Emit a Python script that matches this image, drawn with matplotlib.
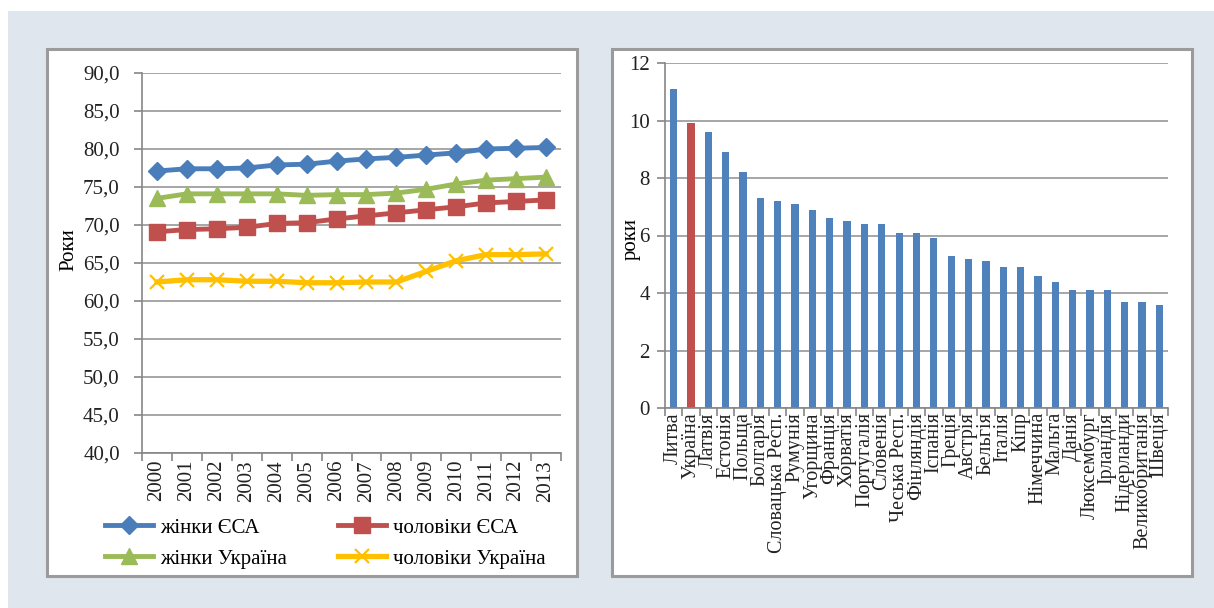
import matplotlib.pyplot as plt
from matplotlib.patches import Rectangle
from matplotlib.ticker import FuncFormatter, FixedLocator

plt.rcParams['font.family'] = 'serif'
plt.rcParams['font.serif'] = ['Liberation Serif', 'DejaVu Serif']

# left chart: life expectancy
years = [str(y) for y in range(2000, 2014)]
women_eu = [77.1, 77.4, 77.4, 77.5, 77.9, 78.0, 78.4, 78.7, 78.9, 79.2, 79.5, 80.0, 80.1, 80.2]
men_eu = [69.1, 69.4, 69.5, 69.7, 70.2, 70.3, 70.8, 71.2, 71.6, 72.0, 72.4, 72.9, 73.1, 73.3]
women_ua = [73.5, 74.1, 74.1, 74.1, 74.1, 73.9, 74.0, 74.0, 74.2, 74.7, 75.4, 75.9, 76.1, 76.3]
men_ua = [62.5, 62.8, 62.8, 62.6, 62.6, 62.4, 62.4, 62.5, 62.5, 63.9, 65.3, 66.1, 66.1, 66.2]

# right chart: gap in years by country
countries = ['Литва', 'Україна', 'Латвія', 'Естонія', 'Польща', 'Болгарія', 'Словацька Респ.',
             'Румунія', 'Угорщина', 'Франція', 'Хорватія', 'Португалія', 'Словенія',
             'Чеська Респ.', 'Фінляндія', 'Іспанія', 'Греція', 'Австрія', 'Бельгія', 'Італія',
             'Кіпр', 'Німеччина', 'Мальта', 'Данія', 'Люксембург', 'Ірландія', 'Нідерланди',
             'Великобританія', 'Швеція']
gap = [11.1, 9.9, 9.6, 8.9, 8.2, 7.3, 7.2, 7.1, 6.9, 6.6, 6.5, 6.4, 6.4, 6.1, 6.1, 5.9,
       5.3, 5.2, 5.1, 4.9, 4.9, 4.6, 4.4, 4.1, 4.1, 4.1, 3.7, 3.7, 3.6]

W, H = 1214, 608
fig = plt.figure(figsize=(W / 100, H / 100), dpi=100)
fig.patch.set_facecolor('white')


def px_rect(x0, y0, x1, y1):
    return [x0 / W, 1 - y1 / H, (x1 - x0) / W, (y1 - y0) / H]


bg = Rectangle((8 / W, 0), 1 - 8 / W, 1 - 11 / H, transform=fig.transFigure,
               facecolor='#dfe6ee', edgecolor='none', zorder=-10)
fig.patches.append(bg)
for x0, x1 in [(47, 577), (612, 1192)]:
    box = Rectangle((x0 / W, 1 - 576 / H), (x1 - x0) / W, (576 - 49) / H,
                    transform=fig.transFigure, facecolor='white',
                    edgecolor='#9b9b9b', linewidth=2.2, zorder=-5)
    fig.patches.append(box)

grid_c = '#a6a6a6'
axis_c = '#868686'
fs = 15


def style(ax, xfs, ypad):
    for s in ['top', 'right']:
        ax.spines[s].set_visible(False)
    for s in ['left', 'bottom']:
        ax.spines[s].set_color(axis_c)
        ax.spines[s].set_linewidth(1.2)
    ax.yaxis.grid(True, color=grid_c, linewidth=1.4)
    ax.set_axisbelow(True)
    ax.tick_params(axis='y', colors=axis_c, labelcolor='#222222', labelsize=fs,
                   length=6, width=1.2, pad=ypad)
    ax.tick_params(axis='x', which='major', length=0, labelcolor='#222222',
                   labelsize=xfs, pad=5)
    ax.tick_params(axis='x', which='minor', length=6, width=1.2, colors=axis_c)


# ---- left chart
ax1 = fig.add_axes(px_rect(142, 73, 561, 453))
x = range(len(years))
l1, = ax1.plot(x, women_eu, color='#4a7ebb', lw=3.5, marker='D', ms=9.5, label='жінки ЄСА')
l2, = ax1.plot(x, men_eu, color='#c0504d', lw=3.5, marker='s', ms=11, label='чоловіки ЄСА')
l3, = ax1.plot(x, women_ua, color='#9bbb59', lw=3.5, marker='^', ms=11, label='жінки Україна')
l4, = ax1.plot(x, men_ua, color='#ffc000', lw=3.8, marker='x', ms=10, mew=1.6,
               label='чоловіки Україна')
ax1.set_xlim(-0.5, len(years) - 0.5)
ax1.set_ylim(40, 90)
ax1.set_yticks(range(40, 91, 5))
ax1.yaxis.set_major_formatter(FuncFormatter(lambda v, p: f'{v:.1f}'.replace('.', ',')))
ax1.set_xticks(list(x))
ax1.set_xticklabels(years, rotation=90)
ax1.xaxis.set_minor_locator(FixedLocator([i - 0.5 for i in range(len(years) + 1)]))
ax1.set_ylabel('Роки', fontsize=fs)
ax1.yaxis.set_label_coords(-0.152, 0.535)
style(ax1, fs, 10)
# legend fills row by row in the reference
ax1.legend(handles=[l1, l3, l2, l4], loc='upper left', bbox_to_anchor=(105 / W, 1 - 518 / H),
           bbox_transform=fig.transFigure, ncol=2, frameon=False, fontsize=fs,
           borderpad=0, borderaxespad=0, handlelength=2.3, handletextpad=0.35,
           columnspacing=2.45, labelspacing=0.55)

# ---- right chart
ax2 = fig.add_axes(px_rect(665, 63, 1168, 408))
xc = range(len(countries))
colors = ['#c0504d' if c == 'Україна' else '#4f81bd' for c in countries]
ax2.bar(xc, gap, width=0.42, color=colors)
ax2.set_xlim(-0.5, len(countries) - 0.5)
ax2.set_ylim(0, 12)
ax2.set_yticks(range(0, 13, 2))
ax2.set_xticks(list(xc))
ax2.set_xticklabels(countries, rotation=90)
ax2.xaxis.set_minor_locator(FixedLocator([i - 0.5 for i in range(len(countries) + 1)]))
ax2.set_ylabel('роки', fontsize=fs)
ax2.yaxis.set_label_coords(-0.048, 0.49)
style(ax2, 14.5, 5)
ax2.tick_params(axis='x', which='major', pad=3)

fig.savefig('out.png', dpi=100)
